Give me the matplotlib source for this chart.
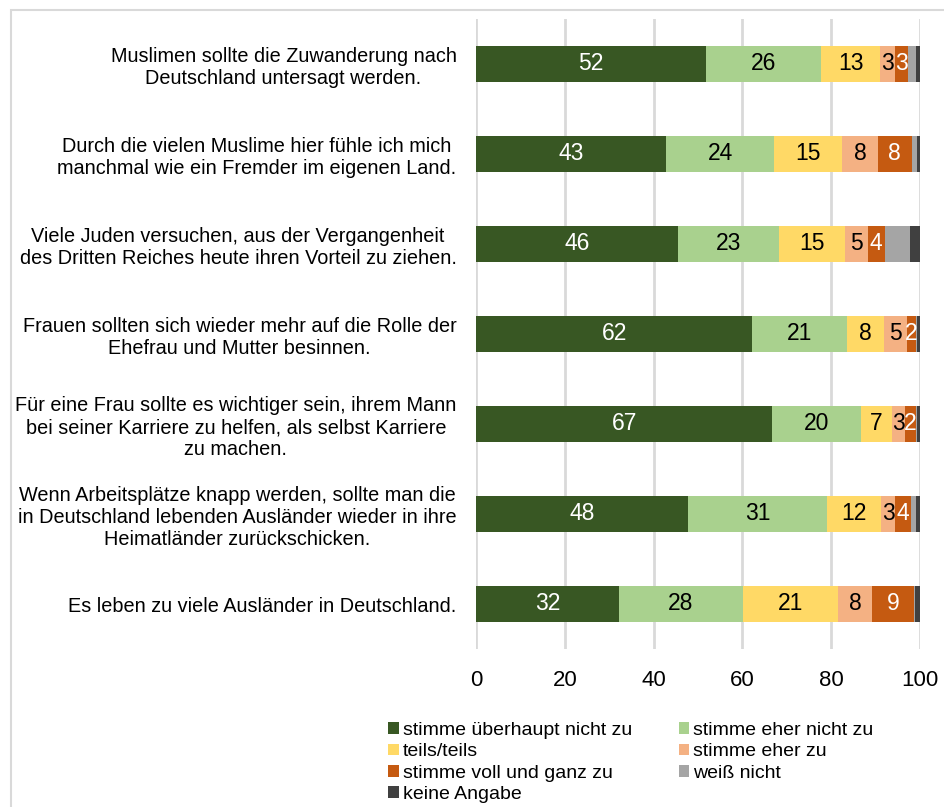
import matplotlib
matplotlib.use("Agg")
import matplotlib.pyplot as plt
from matplotlib.patches import Rectangle
import numpy as np

plt.rcParams['font.family'] = ['Liberation Sans', 'DejaVu Sans']

categories = [
    "Muslimen sollte die Zuwanderung nach\nDeutschland untersagt werden.",
    "Durch die vielen Muslime hier fühle ich mich\nmanchmal wie ein Fremder im eigenen Land.",
    "Viele Juden versuchen, aus der Vergangenheit\ndes Dritten Reiches heute ihren Vorteil zu ziehen.",
    "Frauen sollten sich wieder mehr auf die Rolle der\nEhefrau und Mutter besinnen.",
    "Für eine Frau sollte es wichtiger sein, ihrem Mann\nbei seiner Karriere zu helfen, als selbst Karriere\nzu machen.",
    "Wenn Arbeitsplätze knapp werden, sollte man die\nin Deutschland lebenden Ausländer wieder in ihre\nHeimatländer zurückschicken.",
    "Es leben zu viele Ausländer in Deutschland.",
]

series_names = [
    "stimme überhaupt nicht zu",
    "stimme eher nicht zu",
    "teils/teils",
    "stimme eher zu",
    "stimme voll und ganz zu",
    "weiß nicht",
    "keine Angabe",
]

s_ueberhaupt_nicht = [51.8, 42.9, 45.6, 62.2, 66.7, 47.8, 32.2]
s_eher_nicht = [26.0, 24.2, 22.7, 21.4, 20.0, 31.3, 27.9]
s_teils = [13.3, 15.4, 14.8, 8.4, 6.9, 12.1, 21.4]
s_eher_zu = [3.3, 8.0, 5.1, 5.0, 3.0, 3.2, 7.8]
s_voll = [2.9, 7.6, 3.9, 2.0, 2.4, 3.6, 9.4]
s_weiss_nicht = [1.7, 1.2, 5.6, 0.3, 0.3, 1.2, 0.2]
s_keine = [1.0, 0.8, 2.3, 0.7, 0.7, 0.8, 1.0]

series = [s_ueberhaupt_nicht, s_eher_nicht, s_teils, s_eher_zu, s_voll, s_weiss_nicht, s_keine]
colors = ["#385723", "#A9D18E", "#FFD966", "#F4B183", "#C55A11", "#A5A5A5", "#404040"]
label_colors = ["white", "black", "black", "black", "white", None, None]

xticks = [0, 20, 40, 60, 80, 100]

fig = plt.figure(figsize=(9.44, 8.07), dpi=100)
ax = fig.add_axes([476/944, 1 - 649/807, (920-476)/944, 630/807])

# outer border
fig.patches.append(Rectangle((11/944, -0.05), 1.2, 1 - 10/807 + 0.05,
                             transform=fig.transFigure, fill=False,
                             edgecolor="#D9D9D9", linewidth=1.5))

y = np.arange(len(categories))
left = np.zeros(len(categories))
handles = []
for vals, name, col, lc in zip(series, series_names, colors, label_colors):
    vals = np.array(vals)
    bars = ax.barh(y, vals, left=left, height=0.4, color=col, label=name, zorder=3)
    handles.append(bars)
    if lc is not None:
        for yi, v, l in zip(y, vals, left):
            ax.text(l + v / 2, yi, f"{v:.0f}", ha="center", va="center",
                    color=lc, fontsize=16.5, zorder=4)
    left += vals

ax.set_xlim(0, 100)
ax.set_ylim(len(categories) - 0.5, -0.5)
ax.set_xticks(xticks)
ax.set_xticklabels([str(t) for t in xticks], fontsize=16)
ax.set_yticks(y)
ax.set_yticklabels(categories, fontsize=14.3)
for lab in ax.get_yticklabels():
    lab.set_multialignment("center")
ax.tick_params(axis="both", length=0)
ax.tick_params(axis="y", pad=14)
ax.tick_params(axis="x", pad=15)
ax.grid(axis="x", color="#D9D9D9", linewidth=2, zorder=0)
for sp in ax.spines.values():
    sp.set_visible(False)

order = [0, 2, 4, 6, 1, 3, 5]
leg = fig.legend([handles[i] for i in order], [series_names[i] for i in order],
                 ncol=2, loc="upper left", bbox_to_anchor=(388/944, 1 - 722/807),
                 frameon=False, fontsize=14, handlelength=0.55, handleheight=0.55,
                 handletextpad=0.2, columnspacing=2.4, labelspacing=0.22,
                 borderaxespad=0, borderpad=0)

fig.savefig("out.png", dpi=100)
